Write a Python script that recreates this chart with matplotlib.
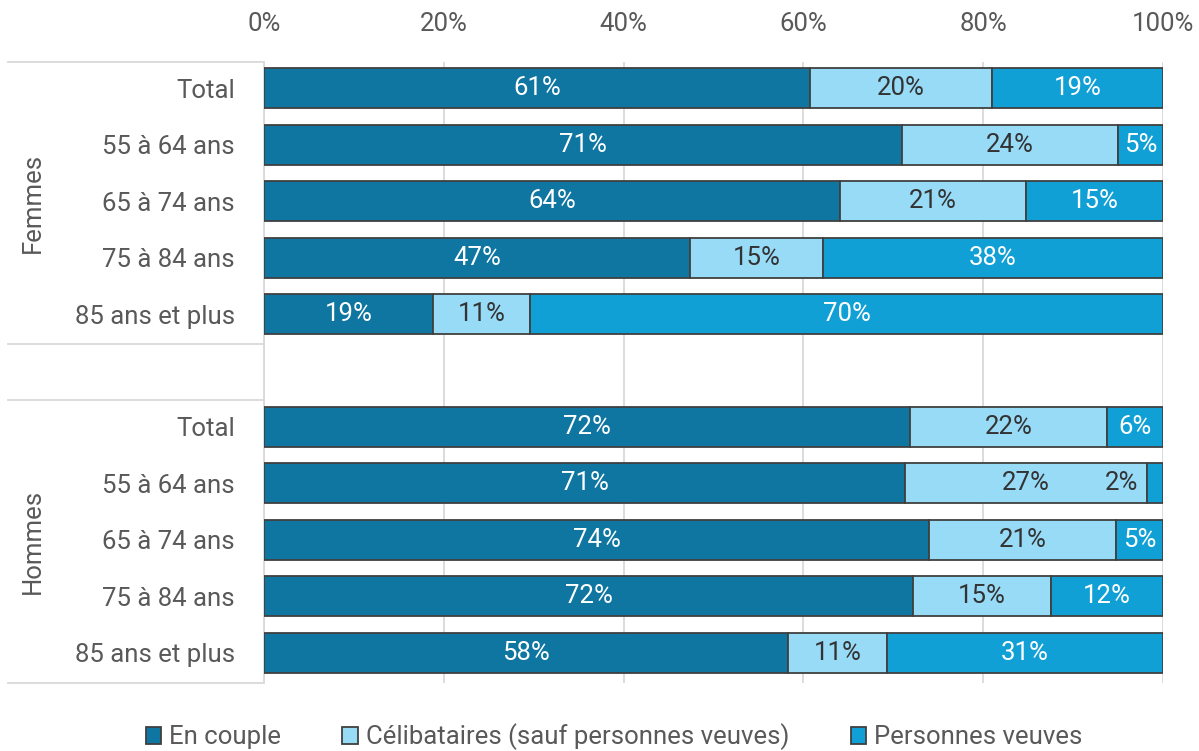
import numpy as np
import matplotlib.pyplot as plt
from matplotlib.patches import Patch
from matplotlib.lines import Line2D

plt.rcParams['font.family'] = ['Roboto', 'DejaVu Sans']

ages = ["Total", "55 à 64 ans", "65 à 74 ans", "75 à 84 ans", "85 ans et plus"]
groups = ["Femmes", "Hommes"]
series = ["En couple", "Célibataires (sauf personnes veuves)", "Personnes veuves"]

# valeurs (%)
femmes_couple = [60.7, 71.0, 64.1, 47.4, 18.8]
femmes_celib = [20.3, 24.0, 20.7, 14.8, 10.8]
femmes_veuves = [19.0, 5.0, 15.2, 37.8, 70.4]
hommes_couple = [71.9, 71.3, 74.0, 72.2, 58.3]
hommes_celib = [21.9, 26.9, 20.8, 15.3, 11.0]
hommes_veuves = [6.2, 1.8, 5.2, 12.5, 30.7]

colors = ["#0E76A0", "#97DBF7", "#10A0D6"]
txt_colors = ["white", "#333333", "white"]
grey = "#595959"
fs = 18.5

fig = plt.figure(figsize=(11.99, 7.51), dpi=100)
ax = fig.add_axes([264 / 1199, 1 - 683 / 751, 899 / 1199, 621 / 751])

# rows: 0-4 femmes, 5 vide, 6-10 hommes (de haut en bas)
ypos_f = np.arange(5)
ypos_h = np.arange(6, 11)

for ypos, vals in [(ypos_f, [femmes_couple, femmes_celib, femmes_veuves]),
                   (ypos_h, [hommes_couple, hommes_celib, hommes_veuves])]:
    left = np.zeros(5)
    for k, v in enumerate(vals):
        v = np.array(v)
        ax.barh(ypos, v, left=left, height=0.71, color=colors[k],
                edgecolor="#404040", linewidth=1.3, zorder=3)
        for i in range(5):
            xc = left[i] + v[i] / 2
            if v[i] < 3:
                xc = left[i] - 2.8  # étiquette décalée
                col = "#333333"
            else:
                col = txt_colors[k]
            ax.text(xc, ypos[i], f"{round(v[i]):.0f}%", ha="center", va="center",
                    color=col, fontsize=fs, zorder=4)
        left = left + v

ax.set_xlim(0, 100)
ax.set_ylim(10.535, -0.465)
ax.xaxis.tick_top()
ax.set_xticks(np.arange(0, 101, 20))
ax.set_xticklabels([f"{t}%" for t in range(0, 101, 20)])
ax.tick_params(axis="x", length=0, labelsize=fs, colors=grey, pad=19)
ax.set_yticks(list(ypos_f) + list(ypos_h))
ax.set_yticklabels(ages + ages)
ax.tick_params(axis="y", length=0, labelsize=fs, colors=grey, pad=21)
ax.grid(axis="x", color="#D9D9D9", linewidth=1.3, zorder=0)
for s in ["top", "right", "bottom"]:
    ax.spines[s].set_visible(False)
ax.spines["left"].set_color("#D9D9D9")
ax.spines["left"].set_linewidth(1.3)

# lignes de séparation des groupes
for yp in [62, 344, 400, 683]:
    fig.add_artist(Line2D([8 / 1199, 263 / 1199], [1 - yp / 751] * 2,
                          color="#D9D9D9", linewidth=1.3))
fig.text(33 / 1199, 1 - 203 / 751, groups[0], rotation=90, ha="center",
         va="center", fontsize=fs, color=grey)
fig.text(33 / 1199, 1 - 541 / 751, groups[1], rotation=90, ha="center",
         va="center", fontsize=fs, color=grey)

handles = [Patch(facecolor=c, edgecolor="#404040", linewidth=1.3) for c in colors]
fig.legend(handles, series, loc="center", bbox_to_anchor=(0.512, 1 - 737 / 751),
           ncol=3, frameon=False, fontsize=fs, labelcolor=grey,
           handlelength=0.6, handleheight=0.6, handletextpad=0.3,
           columnspacing=2.4)

fig.savefig("out.png", dpi=100)
